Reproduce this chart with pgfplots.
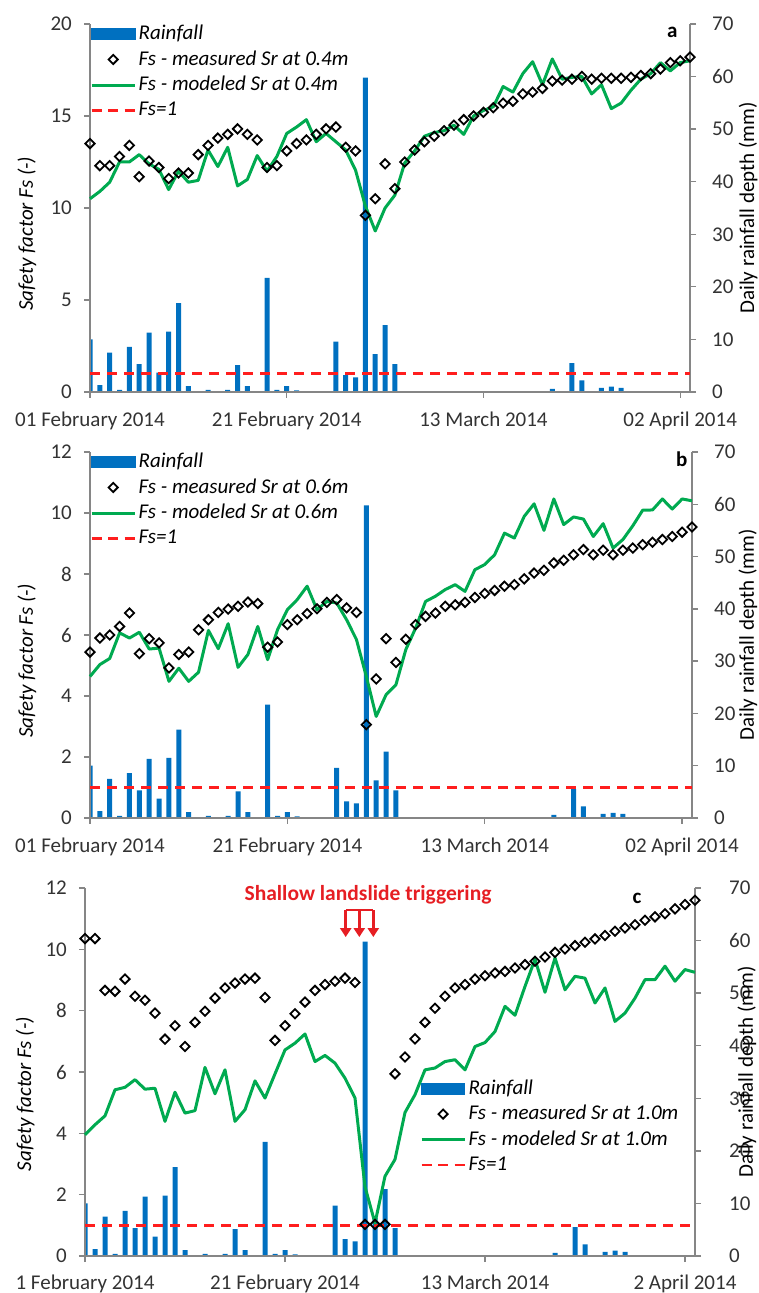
\documentclass[border=0pt]{standalone}
\usepackage{fontspec}
\setmainfont{Carlito}
\usepackage{pgfplots}
\usepackage{pgfplotstable}
\pgfplotsset{compat=1.18}
\usetikzlibrary{arrows.meta}
\definecolor{barblue}{RGB}{0,112,192}
\definecolor{lgreen}{RGB}{0,170,80}
\definecolor{fsred}{RGB}{255,30,30}
\definecolor{annred}{RGB}{230,30,35}
\definecolor{axgray}{RGB}{134,134,134}

% daily rainfall (mm), days counted from 1 February 2014
\pgfplotstableread{
d mm
0 10.0
1 1.3
2 7.5
3 0.4
4 8.6
5 5.3
6 11.3
7 3.7
8 11.5
9 16.9
10 1.1
12 0.4
14 0.4
15 5.1
16 1.1
18 21.7
19 0.4
20 1.1
21 0.3
25 9.6
26 3.2
27 2.8
28 59.8
29 7.2
30 12.7
31 5.3
47 0.6
49 5.5
50 2.2
52 0.8
53 1.0
54 0.8
}\rain

% safety factor: measured / modeled at 0.4, 0.6 and 1.0 m
\pgfplotstableread{
d meaA modA meaB modB meaC modC
0 13.5 10.5 5.44 4.64 10.35 3.95
1 12.3 10.9 5.90 5.03 10.35 4.28
2 12.3 11.4 6.00 5.23 8.66 4.57
3 12.8 12.5 6.28 6.07 8.63 5.42
4 13.4 12.5 6.72 5.90 9.03 5.50
5 11.7 12.9 5.39 6.09 8.47 5.75
6 12.55 12.4 5.88 5.54 8.34 5.44
7 12.2 12.1 5.74 5.57 7.92 5.47
8 11.6 11.0 4.92 4.48 7.07 4.39
9 11.9 12.0 5.36 4.91 7.51 5.34
10 11.9 11.4 5.44 4.48 6.83 4.66
11 12.9 11.5 6.17 4.78 7.62 4.74
12 13.4 13.15 6.50 6.15 7.98 6.15
13 13.8 12.25 6.74 5.55 8.41 5.29
14 14.0 13.3 6.85 6.37 8.74 6.07
15 14.3 11.2 6.94 4.94 8.90 4.39
16 14.0 11.55 7.08 5.36 9.03 4.77
17 13.7 12.85 7.03 6.28 9.06 5.71
18 12.2 12.0 5.60 5.19 8.43 5.15
19 12.3 12.8 5.77 6.17 7.03 5.94
20 13.1 14.05 6.34 6.83 7.51 6.72
21 13.5 14.4 6.50 7.16 7.90 6.94
22 13.7 14.8 6.70 7.60 8.28 7.24
23 14.0 13.6 6.86 6.83 8.66 6.34
24 14.3 14.05 7.07 7.10 8.85 6.54
25 14.4 13.6 7.16 7.05 8.96 6.29
26 13.3 13.15 6.89 6.50 9.06 5.80
27 13.1 12.05 6.74 5.85 8.92 5.15
28 9.6 10.1 3.06 4.64 1.03 2.26
29 10.5 8.75 4.56 3.33 1.03 1.07
30 12.4 10.0 5.88 4.04 1.03 2.60
31 11.05 10.7 5.10 4.37 5.94 3.15
32 12.5 12.45 5.86 5.52 6.49 4.68
33 13.15 13.1 6.34 6.23 7.08 5.26
34 13.6 13.9 6.61 7.10 7.62 6.07
35 13.9 14.1 6.72 7.27 8.08 6.13
36 14.2 14.2 6.94 7.49 8.47 6.34
37 14.5 14.5 6.99 7.65 8.74 6.40
38 14.8 14.0 7.07 7.43 8.85 6.07
39 15.0 15.0 7.23 8.14 9.03 6.83
40 15.2 15.3 7.36 8.31 9.14 6.96
41 15.45 15.5 7.46 8.63 9.23 7.32
42 15.7 16.6 7.60 9.34 9.28 8.14
43 15.8 16.3 7.65 9.18 9.39 7.85
44 16.2 17.3 7.84 9.89 9.50 8.79
45 16.3 17.95 8.03 10.30 9.61 9.68
46 16.5 16.7 8.12 9.43 9.75 8.60
47 16.9 18.1 8.36 10.46 9.90 9.72
48 16.95 17.0 8.45 9.62 10.01 8.68
49 17.0 17.1 8.63 9.87 10.12 9.12
50 17.15 17.15 8.80 9.80 10.23 9.06
51 17.0 16.2 8.63 9.23 10.34 8.25
52 17.05 16.7 8.78 9.65 10.45 8.74
53 17.05 15.4 8.63 8.85 10.59 7.65
54 17.05 15.7 8.78 9.13 10.70 7.92
55 17.1 16.4 8.85 9.58 10.80 8.41
56 17.2 17.0 8.96 10.09 10.95 9.01
57 17.3 17.3 9.04 10.10 11.06 9.01
58 17.55 17.9 9.13 10.46 11.16 9.45
59 17.9 17.45 9.23 10.13 11.32 8.96
60 18.0 17.9 9.37 10.46 11.46 9.34
61 18.2 18.0 9.54 10.40 11.60 9.25
}\fs

\pgfplotsset{
  basis/.style={scale only axis, xmin=0, xmax=61, tick align=outside,
    axis line style={draw=axgray, line width=1.3pt},
    major tick style={draw=axgray, line width=1.3pt}, major tick length=6pt,
    tick label style={text=black!80},
    /pgf/number format/assume math mode=true},
  rainax/.style={basis, ymin=0, ymax=70, ytick={0,10,...,70},
    axis y line*=right, axis x line=none,
    yticklabel style={xshift=9pt},
    ylabel={Daily rainfall depth (mm)},
    ylabel style={at={(axis description cs:1.0967,0.5)}, anchor=center}},
  fsax/.style={basis, axis x line*=bottom, axis y line*=left, xtick={0,20,40,60},
    clip=false, ylabel={\itshape Safety factor Fs (-)},
    yticklabel style={xshift=-5pt}, xticklabel style={yshift=-7pt},
    ylabel style={at={(axis description cs:-0.105,0.43)}, anchor=center},
    legend style={at={(0,1.005)}, anchor=north west, draw=none, fill=none,
      inner sep=0pt, font=\itshape, cells={anchor=west}, row sep=3pt,
      nodes={inner sep=2.5pt}}},
  rainbar/.style={ybar, bar width=5pt, fill=barblue, draw=none},
  % legend pictures, 43pt long as in the reference
  rainleg/.style={legend image code/.code={\fill[barblue] (0pt,-5.5pt) rectangle (43pt,5.5pt);}},
  measleg/.style={legend image code/.code={\path[draw=none,fill=none] (0pt,-5.5pt) rectangle (43pt,5.5pt);
      \draw[black,line width=1.8pt] (21.5pt,-4.6pt) -- (26.1pt,0pt) -- (21.5pt,4.6pt) -- (16.9pt,0pt) -- cycle;}},
  modleg/.style={legend image code/.code={\path[draw=none,fill=none] (0pt,-5.5pt) rectangle (43pt,5.5pt);
      \draw[lgreen,line width=3pt] (0pt,0pt) -- (43pt,0pt);}},
  oneleg/.style={legend image code/.code={\path[draw=none,fill=none] (0pt,-5.5pt) rectangle (43pt,5.5pt);
      \draw[fsred,line width=2.5pt,dash pattern=on 10pt off 6.5pt] (0pt,0pt) -- (43pt,0pt);}},
  meas/.style={only marks, mark=square, mark size=3.3pt,
    mark options={rotate=45, line width=1.8pt, draw=black, fill=none}},
  modl/.style={draw=lgreen, line width=3pt, line join=round, mark=none},
  fsone/.style={draw=fsred, line width=2.5pt, dash pattern=on 10pt off 7pt}
}

\begin{document}
\fontsize{21}{25}\selectfont
\begin{tikzpicture}
\path[use as bounding box] (0pt,0pt) rectangle (759pt,1293pt);

% ---- panel a
\begin{axis}[rainax, at={(90pt,901pt)}, width=600pt, height=368pt]
  \addplot[rainbar] table[x=d,y=mm]{\rain};
\end{axis}
\begin{axis}[fsax, at={(90pt,901pt)}, width=600pt, height=368pt,
  ymin=0, ymax=20, ytick={0,5,...,20},
  xticklabels={01 February 2014,21 February 2014,13 March 2014,02 April 2014}]
  \addlegendimage{rainleg}\addlegendentry{Rainfall}
  \addlegendimage{measleg}\addlegendentry{Fs - measured Sr at 0.4m}
  \addlegendimage{modleg}\addlegendentry{Fs - modeled Sr at 0.4m}
  \addlegendimage{oneleg}\addlegendentry{Fs=1}
  \addplot[fsone, forget plot] coordinates {(0,1) (61,1)};
  \addplot[modl, forget plot] table[x=d,y=modA]{\fs};
  \addplot[meas, forget plot] table[x=d,y=meaA]{\fs};
  \node[font=\bfseries] at (axis cs:59.2,19.55) {a};
\end{axis}

% ---- panel b
\begin{axis}[rainax, at={(90pt,475pt)}, width=602pt, height=366pt,
  ylabel style={at={(axis description cs:1.093,0.5)}}]
  \addplot[rainbar] table[x=d,y=mm]{\rain};
\end{axis}
\begin{axis}[fsax, at={(90pt,475pt)}, width=602pt, height=366pt,
  ymin=0, ymax=12, ytick={0,2,...,12},
  xticklabels={01 February 2014,21 February 2014,13 March 2014,02 April 2014}]
  \addlegendimage{rainleg}\addlegendentry{Rainfall}
  \addlegendimage{measleg}\addlegendentry{Fs - measured Sr at 0.6m}
  \addlegendimage{modleg}\addlegendentry{Fs - modeled Sr at 0.6m}
  \addlegendimage{oneleg}\addlegendentry{Fs=1}
  \addplot[fsone, forget plot] coordinates {(0,1) (61,1)};
  \addplot[modl, forget plot] table[x=d,y=modB]{\fs};
  \addplot[meas, forget plot] table[x=d,y=meaB]{\fs};
  \node[font=\bfseries] at (axis cs:59.95,11.75) {b};
\end{axis}

% ---- panel c
\begin{axis}[rainax, at={(85pt,37pt)}, width=610pt, height=368pt,
  yticklabel style={xshift=12pt},
  ylabel style={at={(axis description cs:1.0852,0.5)}}]
  \addplot[rainbar] table[x=d,y=mm]{\rain};
\end{axis}
\begin{axis}[fsax, at={(85pt,37pt)}, width=610pt, height=368pt,
  ymin=0, ymax=12, ytick={0,2,...,12},
  xticklabel style={yshift=1.5pt},
  ylabel style={at={(axis description cs:-0.098,0.44)}},
  xticklabels={1 February 2014,21 February 2014,13 March 2014,2 April 2014},
  legend style={at={(0.549,0.487)}, anchor=north west}]
  \addlegendimage{rainleg}\addlegendentry{Rainfall}
  \addlegendimage{measleg}\addlegendentry{Fs - measured Sr at 1.0m}
  \addlegendimage{modleg}\addlegendentry{Fs - modeled Sr at 1.0m}
  \addlegendimage{oneleg}\addlegendentry{Fs=1}
  \addplot[fsone, forget plot] coordinates {(0,1) (61,1)};
  \addplot[modl, forget plot] table[x=d,y=modC]{\fs};
  \addplot[meas, forget plot] table[x=d,y=meaC]{\fs};
  \node[font=\bfseries] at (axis cs:55.2,11.67) {c};
  \node[font=\bfseries\fontsize{21.5}{26}\selectfont, text=annred] at (axis cs:28.3,11.77) {Shallow landslide triggering};
  \draw[annred, line width=2.5pt] (axis cs:26.07,11.28) -- (axis cs:28.83,11.28);
  \draw[annred, line width=2.5pt, -{Triangle[length=9pt,width=11pt]}] (axis cs:26.07,11.28) -- (axis cs:26.07,10.4);
  \draw[annred, line width=2.5pt, -{Triangle[length=9pt,width=11pt]}] (axis cs:27.43,11.28) -- (axis cs:27.43,10.4);
  \draw[annred, line width=2.5pt, -{Triangle[length=9pt,width=11pt]}] (axis cs:28.83,11.28) -- (axis cs:28.83,10.4);
\end{axis}
\end{tikzpicture}
\end{document}
